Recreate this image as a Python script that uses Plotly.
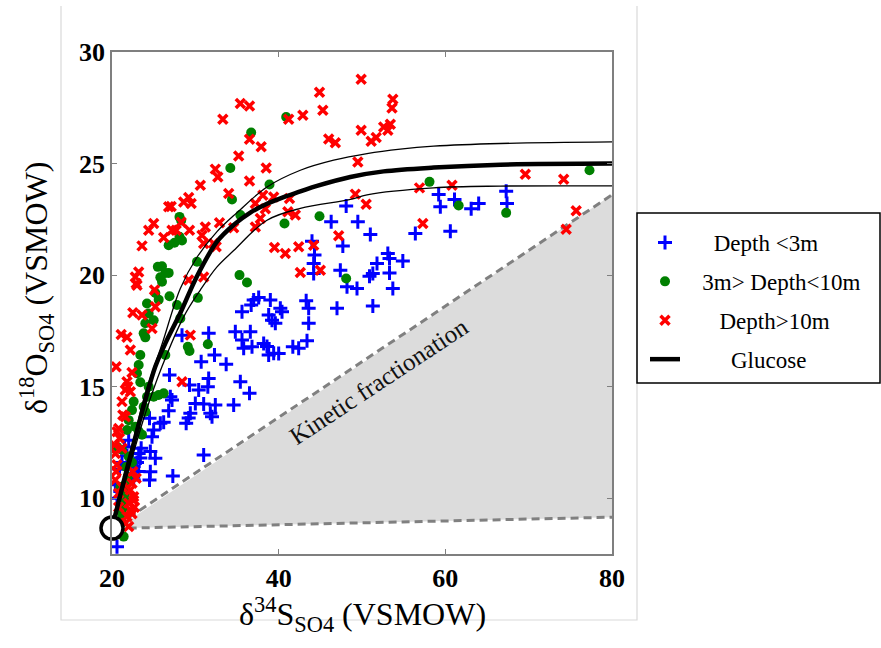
import plotly.graph_objects as go

# ---------------- data ----------------
blue_x = [44.2, 44.2, 47.4, 48.2, 47.0, 43.3, 43.6, 43.6, 43.4, 41.7, 42.4, 39.0, 40.2, 40.4, 38.8, 39.2, 39.6,
          37.0, 36.7, 35.6, 37.6, 34.8, 36.6, 35.6, 35.8, 36.8, 38.2, 38.6, 38.8, 39.4, 40.0, 28.4, 31.6, 32.3,
          30.7, 33.7, 26.9, 31.6, 31.5, 29.3, 30.4, 35.4, 36.5, 27.0, 27.2, 30.0, 31.0, 32.4, 34.6, 26.8, 29.4,
          29.2, 31.8, 32.0, 28.9, 24.5, 25.8, 26.2, 25.0, 24.8, 31.0, 24.6, 25.2, 23.5, 23.2, 23.4, 23.0, 22.6,
          23.2, 24.6, 24.5, 22.6, 21.2, 20.9, 20.6, 21.0, 27.3, 20.6, 21.2, 21.5, 22.0, 21.8, 22.3, 20.4, 21.6,
          48.1, 46.3, 49.5, 51.0, 47.7, 44.0, 44.3, 53.1, 53.3, 54.9, 51.8, 51.3, 50.9, 53.3, 49.4, 53.7, 51.3,
          59.2, 59.4, 61.1, 63.1, 64.0, 67.3, 67.4, 56.4, 60.6]
blue_y = [20.52, 20.07, 20.22, 19.48, 18.51, 18.85, 18.51, 17.84, 17.06, 16.79, 16.72, 18.88, 18.51, 18.36, 18.21,
          17.98, 17.84, 18.88, 18.66, 18.36, 19.0, 17.46, 17.46, 17.09, 16.72, 16.79, 16.94, 16.8, 16.42, 16.5,
          16.49, 17.31, 17.39, 16.42, 16.12, 16.01, 15.52, 15.37, 15.0, 15.07, 14.85, 15.22, 14.7, 14.55, 14.4,
          14.25, 14.22, 14.18, 14.18, 13.92, 13.81, 13.6, 13.81, 13.65, 13.36, 13.58, 13.36, 13.4, 13.06, 12.75,
          11.94, 12.09, 11.79, 12.24, 12.0, 11.8, 11.6, 11.42, 11.2, 11.19, 10.82, 10.82, 11.6, 11.3, 10.0, 10.3,
          11.0, 7.83, 9.5, 12.3, 12.6, 11.9, 11.0, 10.6, 10.2,
          23.1, 22.39, 22.39, 21.82, 21.3, 21.52, 20.9, 20.97, 20.75, 20.63, 20.52, 20.07, 19.95, 20.1, 19.4, 19.4,
          18.61, 23.61, 23.06, 23.39, 22.97, 23.21, 23.76, 23.21, 21.87, 21.97]

green_x = [34.2, 36.7, 40.9, 34.4, 38.9, 35.4, 40.7, 44.9, 28.1, 28.3, 28.1, 28.4, 26.8, 27.5, 30.2, 25.5, 26.0,
           26.4, 26.8, 25.8, 26.0, 25.2, 26.9, 35.3, 36.2, 48.1, 58.1, 61.6, 67.3, 77.3,
           25.6, 24.2, 24.4, 25.0, 24.0, 23.8, 24.0, 27.8, 28.2, 30.3, 31.5, 29.1, 29.3, 26.4, 23.4, 23.2, 23.0,
           23.4, 24.4, 25.0, 25.6, 26.2, 24.2, 22.6, 23.8, 22.4, 24.0, 22.0, 22.8, 21.8, 23.2, 23.6, 20.2, 21.2,
           22.0, 22.4, 21.7, 21.9, 21.6, 21.8, 21.5, 21.4, 21.2, 21.0, 21.2, 21.4, 20.6, 21.0]
green_y = [24.8, 26.39, 27.09, 23.39, 24.06, 22.69, 22.31, 22.64, 22.61, 22.45, 21.72, 21.55, 21.34, 21.45, 20.6,
           20.37, 20.4, 20.1, 20.1, 19.9, 19.7, 19.2, 19.05, 20.0, 19.67, 19.85, 24.18, 23.12, 22.79, 24.7,
           18.9, 18.73, 18.28, 17.98, 17.84, 17.39, 17.21, 18.66, 18.06, 18.98, 16.9, 16.79, 16.6, 16.42, 16.42,
           15.97, 15.6, 15.2, 15.0, 14.55, 14.63, 14.7, 14.55, 14.33, 14.1, 13.95, 13.88, 13.5, 13.2, 13.06, 13.0,
           12.85, 12.24, 12.17, 11.87, 11.6, 11.4, 10.97, 10.6, 10.3, 10.0, 9.62, 9.3, 9.0, 8.9, 8.28, 12.3, 10.5]

red_x = [44.9, 45.3, 35.4, 36.5, 33.3, 41.2, 42.9, 46.0, 46.8, 36.5, 37.9, 35.2, 32.4, 32.7, 38.5, 36.5, 30.6,
         34.0, 38.1, 39.4, 37.2, 38.4, 41.3, 41.1, 42.0, 37.8, 37.2, 29.2, 29.5, 28.6, 26.8, 27.1, 25.0, 24.4,
         26.2, 27.2, 27.7, 29.3, 28.3, 31.2, 30.8, 31.0, 32.2, 32.5, 32.9, 34.6, 23.6, 23.2, 22.8, 23.0, 39.5,
         40.8, 42.4, 44.2, 47.2, 42.6, 45.0, 29.2, 31.0,
         49.9, 53.7, 53.6, 53.4, 52.6, 53.1, 49.9, 51.7, 51.1, 49.5, 49.2, 50.5, 56.9, 60.8, 69.6, 74.2, 75.7,
         74.5, 57.3,
         22.9, 25.1, 25.2, 22.5, 23.6, 24.8, 21.1, 21.8, 22.2, 20.5, 22.4, 21.8, 21.9, 21.6, 22.2, 21.2, 21.3,
         21.6, 20.8, 20.6, 20.9, 20.3, 21.2, 20.4, 20.6, 20.4, 20.8, 22.4, 22.2, 22.6, 22.0, 22.2, 21.8, 21.6,
         22.0, 22.6, 28.4, 29.4, 22.5, 22.9, 22.7, 22.4, 21.2, 20.5, 20.8]
red_y = [28.2, 27.39, 27.69, 27.58, 26.99, 26.99, 27.17, 26.1, 25.93, 26.09, 25.75, 25.34, 24.75, 24.4, 24.8,
         24.22, 24.03, 23.66, 23.58, 23.5, 23.21, 22.97, 23.43, 22.84, 22.69, 22.54, 22.16, 23.48, 23.21, 23.28,
         23.06, 23.08, 22.31, 22.01, 21.69, 22.01, 22.01, 22.01, 22.37, 22.16, 21.79, 21.42, 21.42, 21.27, 22.35,
         22.12, 21.31, 20.14, 19.92, 19.55, 21.24, 20.97, 21.27, 21.34, 21.76, 20.12, 20.22, 19.78, 19.92,
         28.78, 27.88, 27.49, 26.76, 26.64, 26.49, 26.49, 26.17, 26.0, 25.07, 23.63, 23.18, 23.91, 24.03, 24.52,
         24.3, 22.88, 22.06, 22.31,
         19.63, 19.33, 18.58, 18.31, 18.21, 17.61, 17.34, 17.21, 16.64, 15.89, 15.64, 15.22, 15.0, 14.85, 14.77,
         14.33, 13.73, 13.65, 13.13, 12.98, 12.69, 12.39, 12.24, 12.0, 11.5, 10.82, 10.22, 10.67, 10.37, 10.07,
         9.78, 9.48, 9.18, 8.88, 8.73, 9.9, 15.22, 17.31, 11.2, 10.9, 9.6, 9.3, 10.5, 11.2, 9.6]

glucose_x = [20.0, 20.6, 21.4, 22.4, 23.2, 24.0, 25.2, 26.4, 28.2, 30.2, 32.6, 34.6, 36.6, 38.6, 40.6, 42.6,
             44.6, 48.6, 52.6, 58.6, 66.6, 80.0]
glucose_y = [8.66, 9.55, 10.75, 12.17, 13.3, 14.4, 15.9, 16.94, 18.3, 19.95, 21.5, 22.25, 22.8, 23.2, 23.5,
             23.75, 24.0, 24.4, 24.65, 24.82, 24.95, 25.0]
upper_x = [20.0, 22.4, 24.0, 26.0, 28.2, 30.2, 32.6, 35.0, 38.6, 42.6, 46.6, 50.6, 54.6, 58.6, 66.6, 80.0]
upper_y = [8.66, 12.3, 14.7, 16.9, 19.4, 20.8, 21.95, 22.8, 23.95, 24.7, 25.15, 25.45, 25.65, 25.78, 25.9, 25.97]
lower_x = [20.0, 22.4, 24.0, 26.0, 28.6, 30.6, 32.6, 34.6, 38.6, 42.6, 48.6, 50.6, 58.6, 66.6, 80.0]
lower_y = [8.66, 11.8, 13.8, 15.9, 18.13, 19.33, 20.37, 21.1, 22.46, 22.99, 23.39, 23.6, 23.91, 23.99, 24.0]

kinetic_upper_x = [22.0, 80.0]
kinetic_upper_y = [9.13, 23.6]
kinetic_lower_x = [22.0, 80.0]
kinetic_lower_y = [8.66, 9.15]
shade_x = [21.6, 80.0, 80.0, 22.0]
shade_y = [8.9, 23.6, 9.15, 8.66]

origin_x = [20.0]
origin_y = [8.66]

x_ticks = [20, 40, 60, 80]
y_ticks = [10, 15, 20, 25, 30]

# ---------------- figure ----------------
SERIF = "Liberation Serif"
fig = go.Figure()

fig.add_trace(go.Scatter(x=shade_x, y=shade_y, mode="lines", fill="toself", fillcolor="#dcdcdc",
                         line=dict(width=0), showlegend=False, hoverinfo="skip"))
for kx, ky in [(kinetic_upper_x, kinetic_upper_y), (kinetic_lower_x, kinetic_lower_y)]:
    fig.add_trace(go.Scatter(x=kx, y=ky, mode="lines", line=dict(color="#808080", width=3, dash="8px,5px"),
                             showlegend=False, hoverinfo="skip"))

pad = "\u00a0"
fig.add_trace(go.Scatter(x=blue_x, y=blue_y, mode="markers", name=pad * 5 + "Depth <3m",
                         legendgroup="a", legendrank=1,
                         marker=dict(symbol="cross-thin", size=10, color="#0000ff",
                                     line=dict(color="#0000ff", width=3))))
fig.add_trace(go.Scatter(x=green_x, y=green_y, mode="markers", name=pad * 3 + "3m> Depth<10m",
                         legendgroup="b", legendrank=2,
                         marker=dict(symbol="circle", size=10, color="#008000")))
fig.add_trace(go.Scatter(x=red_x, y=red_y, mode="markers", name=pad * 6 + "Depth>10m",
                         legendgroup="c", legendrank=3,
                         marker=dict(symbol="x-thin", size=9, color="#ff0000",
                                     line=dict(color="#ff0000", width=3.5))))

for cx, cy in [(upper_x, upper_y), (lower_x, lower_y)]:
    fig.add_trace(go.Scatter(x=cx, y=cy, mode="lines", line=dict(color="black", width=1.3, shape="spline"),
                             showlegend=False, hoverinfo="skip"))
fig.add_trace(go.Scatter(x=glucose_x, y=glucose_y, mode="lines", name=pad * 8 + "Glucose",
                         legendgroup="d", legendrank=4,
                         line=dict(color="black", width=4.5, shape="spline")))

fig.add_trace(go.Scatter(x=origin_x, y=origin_y, mode="markers", showlegend=False, cliponaxis=False,
                         marker=dict(symbol="circle", size=22, color="white",
                                     line=dict(color="black", width=3.5))))

axis_common = dict(showgrid=False, zeroline=False, showline=True, linecolor="#7f7f7f", linewidth=1.5,
                   mirror="ticks", ticks="inside", ticklen=5, tickcolor="#7f7f7f", tickwidth=1,
                   tickfont=dict(family=SERIF, size=26, color="black", weight="bold"))
fig.update_xaxes(range=[20, 80], tickvals=x_ticks, ticktext=[str(v) for v in x_ticks], **axis_common)
fig.update_yaxes(range=[7.5, 30], tickvals=y_ticks, ticktext=[str(v) for v in y_ticks], **axis_common)

W, H = 881, 648
L, R, T, B = 112, 269, 52, 94
pw, ph = W - L - R, H - T - B


def px(xp):
    return (xp - L) / pw


def py(yp):
    return (H - B - yp) / ph


fig.add_annotation(x=52.0, y=15.22, xref="x", yref="y", text="Kinetic fractionation", showarrow=False,
                   textangle=-33.5, font=dict(family=SERIF, size=25, color="#111111"))
fig.add_annotation(x=0.5, y=py(614), xref="paper", yref="paper", xanchor="center", yanchor="middle",
                   text="δ<sup>34</sup>S<sub>SO4</sub> (VSMOW)", showarrow=False,
                   font=dict(family=SERIF, size=32, color="black"))
fig.add_annotation(x=px(36), y=py(288), xref="paper", yref="paper", xanchor="center", yanchor="middle",
                   text="δ<sup>18</sup>O<sub>SO4</sub> (VSMOW)", showarrow=False, textangle=-90,
                   font=dict(family=SERIF, size=32, color="black"))

# outer light frame and legend box
fig.add_shape(type="path", xref="paper", yref="paper",
              path=f"M {px(61)} {py(6)} L {px(61)} {py(620)} L {px(637)} {py(620)} L {px(637)} {py(6)}",
              line=dict(color="#d9d9d9", width=1.2), layer="below")
fig.add_shape(type="rect", xref="paper", yref="paper", x0=px(637), x1=px(880), y0=py(213), y1=py(383),
              line=dict(color="black", width=1.5))

fig.update_layout(
    width=W, height=H, margin=dict(l=L, r=R, t=T, b=B),
    paper_bgcolor="white", plot_bgcolor="white",
    font=dict(family=SERIF),
    legend=dict(x=px(645), xanchor="left", y=py(221), yanchor="top", bgcolor="rgba(0,0,0,0)",
                borderwidth=0, tracegroupgap=6, traceorder="grouped",
                font=dict(family=SERIF, size=23, color="black")),
)

fig.write_html("out.html")
